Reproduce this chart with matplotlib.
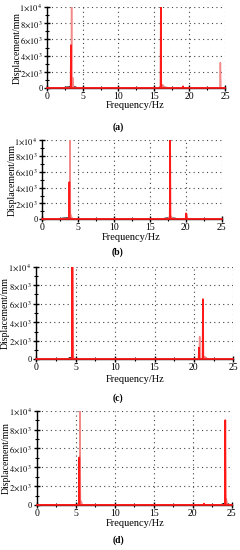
import matplotlib
matplotlib.use("Agg")
import matplotlib.pyplot as plt
from matplotlib.ticker import MultipleLocator, FixedLocator, FixedFormatter

plt.rcParams['font.family'] = ['Liberation Serif', 'DejaVu Serif']
plt.rcParams['mathtext.fontset'] = 'stix'

# ---------------- data ----------------
ytick_vals = [0, 2000, 4000, 6000, 8000, 10000]
ytick_labels = ['0', r'$2{\times}10^3$', r'$4{\times}10^3$', r'$6{\times}10^3$',
                r'$8{\times}10^3$', r'$1{\times}10^4$']
xtick_vals = [0, 5, 10, 15, 20, 25]
panel_tags = ['(a)', '(b)', '(c)', '(d)']

# panel (a)
a_black_f = [0, 2.1, 2.5, 3.0, 3.4, 3.8, 4.1, 4.3, 15.5, 15.8, 16.1, 16.5, 17.0, 17.2, 25]
a_black_v = [0, 0, 100, 150, 200, 180, 100, 0, 0, 120, 180, 120, 60, 0, 0]
a_red_f = [0, 3.28, 3.33, 3.38, 15.93, 15.98, 16.03, 19.05, 19.1, 19.15, 25]
a_red_v = [0, 0, 5300, 0, 0, 11000, 0, 0, 250, 0, 0]
a_pink_f = [0, 3.37, 3.42, 3.47, 3.57, 3.65, 3.75, 16.05, 16.2, 16.35, 16.5, 24.28, 24.35, 24.42, 25]
a_pink_v = [0, 0, 11000, 0, 1300, 500, 0, 0, 450, 300, 0, 0, 3150, 0, 0]

# panel (b)
b_black_f = [0, 2.4, 2.8, 3.3, 3.7, 4.1, 4.3, 16.7, 17.1, 17.6, 18.1, 18.6, 18.8, 19.9, 20.1, 20.3, 25]
b_black_v = [0, 0, 120, 150, 170, 120, 0, 0, 120, 160, 150, 100, 0, 0, 80, 0, 0]
b_red_f = [0, 3.72, 3.77, 3.82, 17.76, 17.81, 17.86, 19.98, 20.03, 20.1, 20.15, 25]
b_red_v = [0, 0, 4700, 0, 0, 11000, 0, 0, 750, 650, 0, 0]
b_pink_f = [0, 3.6, 3.81, 3.86, 3.91, 4.2, 17.5, 17.85, 18.2, 25]
b_pink_v = [0, 0, 600, 11000, 700, 0, 0, 500, 0, 0]

# panel (c)
c_black_f = [0, 4.0, 4.2, 4.5, 4.7, 20.9, 21.2, 21.5, 21.8, 25]
c_black_v = [0, 0, 150, 150, 0, 0, 120, 150, 0, 0]
c_red_f = [0, 4.52, 4.57, 4.62, 20.6, 20.65, 20.7, 21.1, 21.15, 21.2, 25]
c_red_v = [0, 0, 11000, 0, 0, 1260, 0, 0, 6500, 0, 0]
c_pink_f = [0, 4.55, 4.6, 4.7, 4.8, 20.68, 20.73, 20.78, 21.2, 21.4, 21.6, 25]
c_pink_v = [0, 0, 11000, 300, 0, 0, 2450, 0, 0, 300, 0, 0]

# panel (d)
d_black_f = [0, 5.2, 5.4, 5.6, 5.8, 21.4, 21.45, 21.5, 23.6, 23.9, 24.2, 24.5, 24.8, 25]
d_black_v = [0, 0, 150, 150, 0, 0, 0, 0, 0, 120, 180, 120, 0, 0]
d_red_f = [0, 5.41, 5.46, 5.51, 21.4, 21.45, 21.5, 24.13, 24.18, 24.23, 25]
d_red_v = [0, 0, 5050, 0, 0, 150, 0, 0, 9000, 0, 0]
d_pink_f = [0, 5.5, 5.55, 5.6, 5.7, 5.85, 24.2, 24.3, 24.45, 25]
d_pink_v = [0, 0, 11000, 0, 400, 0, 0, 650, 0, 0]

panels = [
    (a_black_f, a_black_v, a_red_f, a_red_v, a_pink_f, a_pink_v),
    (b_black_f, b_black_v, b_red_f, b_red_v, b_pink_f, b_pink_v),
    (c_black_f, c_black_v, c_red_f, c_red_v, c_pink_f, c_pink_v),
    (d_black_f, d_black_v, d_red_f, d_red_v, d_pink_f, d_pink_v),
]

# ---------------- layout (pixels in a 240x550 figure) ----------------
W, H = 240.0, 550.0
# left, right, top, bottom of each axes
boxes = [(47.3, 225.0, 6.7, 88.3),
         (42.3, 221.7, 140.0, 219.3),
         (36.3, 233.3, 266.7, 359.3),
         (36.7, 231.7, 410.7, 505.0)]
ylabel_x = [17, 12, 5.5, 6.5]
xlabel_y = [106, 237, 379, 523]
xlabel_x = [135, 131, 135, 135]
tag_y = [127, 252, 398, 540]

fig = plt.figure(figsize=(W / 100, H / 100), dpi=100)

for i, (bf, bv, rf, rv, pf, pv) in enumerate(panels):
    l, r, t, b = boxes[i]
    ax = fig.add_axes([l / W, 1 - b / H, (r - l) / W, (b - t) / H])
    ax.set_xlim(0, 25)
    ax.set_ylim(0, 10000)
    ax.plot(bf, bv, color='black', lw=1.0, zorder=3, clip_on=True)
    ax.plot(pf, pv, color='#f38a8a', lw=1.1, zorder=4, clip_on=True)
    ax.plot(rf, rv, color='#ff1a1a', lw=1.2, zorder=5, clip_on=True)
    ax.axhline(0, color='#ff1a1a', lw=1.2, zorder=6, clip_on=False)

    for s in ['top', 'right']:
        ax.spines[s].set_visible(False)
    ax.spines['left'].set_linewidth(1.0)
    ax.spines['bottom'].set_linewidth(1.0)

    ax.xaxis.set_major_locator(FixedLocator(xtick_vals))
    ax.xaxis.set_minor_locator(MultipleLocator(2.5))
    ax.yaxis.set_major_locator(FixedLocator(ytick_vals))
    ax.yaxis.set_major_formatter(FixedFormatter(ytick_labels))
    ax.yaxis.set_minor_locator(MultipleLocator(1000))
    ax.tick_params(axis='x', which='major', direction='inout', length=5,
                   width=1.0, labelsize=7, pad=0.5)
    ax.tick_params(axis='y', which='major', direction='inout', length=5,
                   width=1.0, labelsize=6, pad=1.0)
    ax.tick_params(axis='both', which='minor', direction='inout', length=3,
                   width=0.8)
    ax.grid(True, which='major', color='#444444', linestyle=(0, (1, 3)), lw=0.8)
    ax.set_axisbelow(True)

    fig.text(xlabel_x[i] / W, 1 - xlabel_y[i] / H, 'Frequency/Hz',
             ha='center', va='center', fontsize=7.5)
    fig.text(ylabel_x[i] / W, 1 - (t + b) / 2 / H, 'Displacement/mm',
             ha='center', va='center', rotation=90, fontsize=7)
    fig.text(118 / W, 1 - tag_y[i] / H, panel_tags[i], ha='center',
             va='center', fontsize=7, fontweight='bold')

fig.savefig('out.png', dpi=100)
